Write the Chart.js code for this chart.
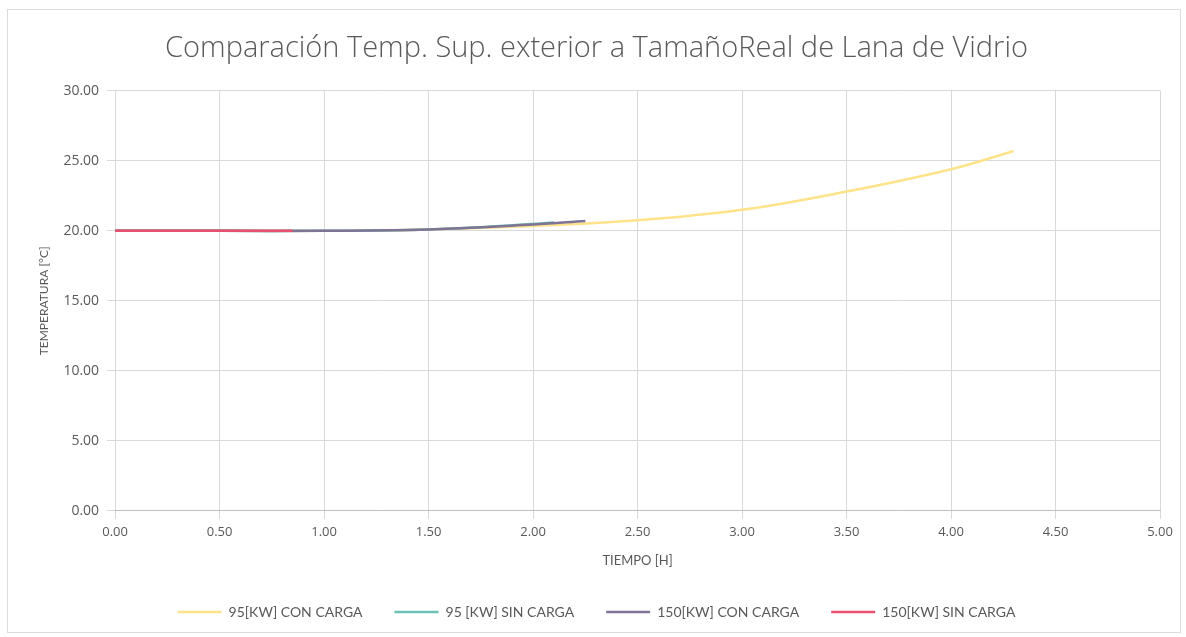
<!DOCTYPE html>
<html lang="es">
<head>
  <meta charset="UTF-8">
  <title>Comparación Temp. Sup. exterior</title>
  <script src="https://cdn.jsdelivr.net/npm/chart.js"></script>
  <style>
    html, body { margin: 0; padding: 0; background: #fff; }
    .wrap { width: 1186px; height: 637px; position: relative; }
    .frame { position: absolute; left: 7px; top: 9px; width: 1172px; height: 622px; border: 1px solid #dcdcdc; pointer-events: none; }
  </style>
</head>
<body>
  <div class="wrap"><canvas id="chart"></canvas><div class="frame"></div></div>
  <script>
    // tiempo [h] / temperatura [°C]
    const t95con = [0, 0.5, 1.0, 1.5, 2.0, 2.5, 3.0, 3.5, 4.0, 4.3];
    const v95con = [20.0, 20.0, 20.0, 20.1, 20.35, 20.75, 21.5, 22.8, 24.4, 25.7];
    const t95sin = [0, 0.5, 1.0, 1.5, 1.8, 2.1];
    const v95sin = [20.0, 20.0, 20.0, 20.1, 20.3, 20.6];
    const t150con = [0, 0.5, 1.0, 1.5, 2.0, 2.25];
    const v150con = [20.0, 20.0, 20.0, 20.1, 20.45, 20.7];
    const t150sin = [0, 0.85];
    const v150sin = [20.0, 20.0];

    const labels = ['95[KW] CON CARGA', '95 [KW] SIN CARGA', '150[KW] CON CARGA', '150[KW] SIN CARGA'];
    const colors = ['#ffe38a', '#6cc3b5', '#7f7396', '#e8506f'];

    const pts = (xs, ys) => xs.map((x, i) => ({ x: x, y: ys[i] }));
    const series = [pts(t95con, v95con), pts(t95sin, v95sin), pts(t150con, v150con), pts(t150sin, v150sin)];

    const font = 'Lato, "Open Sans", sans-serif';
    const tickFont = { family: '"Open Sans", sans-serif', size: 13 };
    const grey = '#595959';

    new Chart(document.getElementById('chart'), {
      type: 'scatter',
      data: {
        datasets: series.map((d, i) => ({
          label: labels[i],
          data: d,
          showLine: true,
          borderColor: colors[i],
          backgroundColor: colors[i],
          borderWidth: 2.5,
          pointRadius: 0,
          tension: 0.4,
          order: 4 - i   // la última serie queda encima
        }))
      },
      options: {
        responsive: true,
        maintainAspectRatio: false,
        animation: false,
        layout: { padding: { left: 33, right: 26, top: 20, bottom: 8 } },
        plugins: {
          title: {
            display: true,
            text: 'Comparación Temp. Sup. exterior a TamañoReal de Lana de Vidrio',
            color: grey,
            font: { family: '"Open Sans", sans-serif', size: 29, weight: 300 },
            padding: { top: 11, bottom: 25 }
          },
          legend: {
            position: 'bottom',
            labels: {
              usePointStyle: true,
              pointStyle: 'line',
              pointStyleWidth: 44,
              color: grey,
              font: { family: font, size: 14 },
              padding: 32,
              sort: (a, b) => a.datasetIndex - b.datasetIndex
            }
          }
        },
        scales: {
          x: {
            type: 'linear',
            min: 0, max: 5,
            ticks: { stepSize: 0.5, color: grey, font: tickFont, padding: 6, callback: v => v.toFixed(2) },
            grid: { color: '#d9d9d9' },
            border: { color: '#bfbfbf' },
            title: { display: true, text: 'TIEMPO [H]', color: grey, font: { family: font, size: 13 }, padding: { top: 7 } }
          },
          y: {
            min: 0, max: 30,
            ticks: { stepSize: 5, color: grey, font: { family: '"Open Sans", sans-serif', size: 14 }, padding: 8, callback: v => v.toFixed(2) },
            grid: { color: '#d9d9d9' },
            border: { display: false },
            title: { display: true, text: 'TEMPERATURA [°C]', color: grey, font: { family: font, size: 12 } }
          }
        }
      }
    });
  </script>
</body>
</html>
